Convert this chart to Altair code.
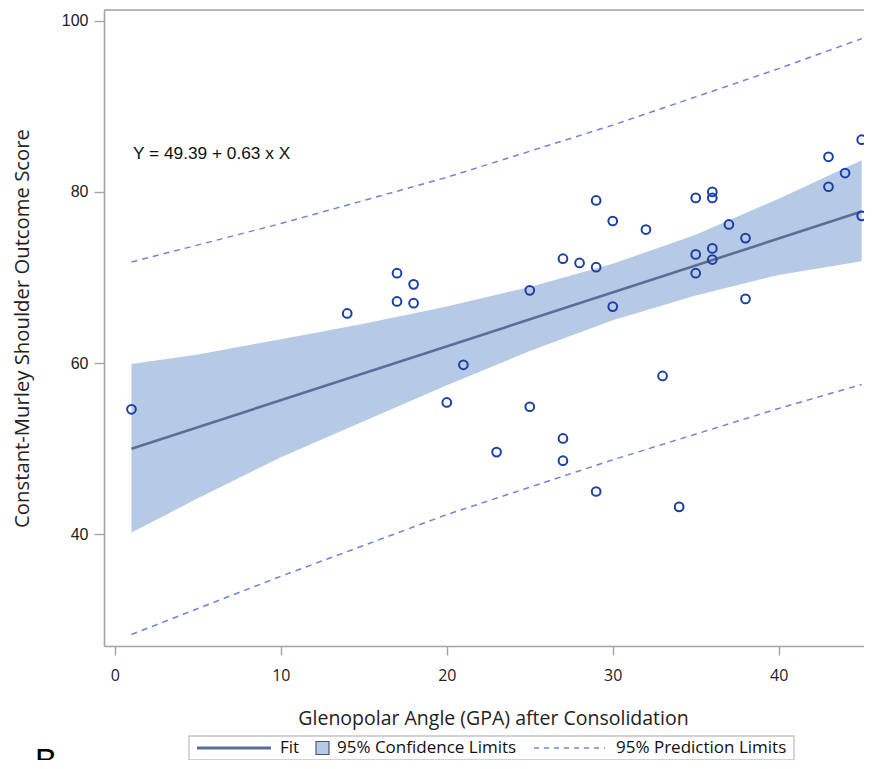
import altair as alt
import pandas as pd

# --- data ---
gpa = [1, 14, 17, 17, 18, 18, 20, 21, 23, 25, 25, 27, 27, 27, 28, 29, 29, 29, 30, 30,
       32, 33, 34, 35, 35, 35, 36, 36, 36, 36, 37, 38, 38, 43, 43, 44, 45, 45]
score = [54.6, 65.8, 70.5, 67.2, 69.2, 67.0, 55.4, 59.8, 49.6, 68.5, 54.9, 72.2, 51.2, 48.6,
         71.7, 79.0, 71.2, 45.0, 76.6, 66.6, 75.6, 58.5, 43.2, 79.3, 72.7, 70.5, 80.0, 79.3,
         73.4, 72.1, 76.2, 74.6, 67.5, 84.1, 80.6, 82.2, 86.1, 77.2]

fit_x = [1, 45]
fit_y = [50.0, 77.7]

band_x = [1, 5, 10, 15, 20, 25, 30, 35, 40, 45]
band_lo = [40.2, 44.2, 49.0, 53.2, 57.4, 61.4, 65.0, 67.9, 70.3, 71.9]
band_hi = [59.9, 61.0, 62.8, 64.6, 66.6, 68.9, 71.6, 75.0, 79.2, 83.7]

pred_x = [1, 10, 20, 30, 40, 45]
pred_hi = [71.8, 76.3, 81.7, 87.8, 94.4, 97.9]
pred_lo = [28.3, 35.1, 42.3, 48.7, 54.7, 57.5]

x_ticks = [0, 10, 20, 30, 40]
y_ticks = [40, 60, 80, 100]
equation = "Y = 49.39 + 0.63 x X"
x_title = "Glenopolar Angle (GPA) after Consolidation"
y_title = "Constant-Murley Shoulder Outcome Score"
legend_labels = ["Fit", "95% Confidence Limits", "95% Prediction Limits"]

W, H = 760, 636
XDOM = [-0.656, 45.14]
YDOM = [26.95, 101.25]

pts = pd.DataFrame({"x": gpa, "y": score})
fit = pd.DataFrame({"x": fit_x, "y": fit_y})
band = pd.DataFrame({"x": band_x, "lo": band_lo, "hi": band_hi})
pred = pd.DataFrame({"x": pred_x, "lo": pred_lo, "hi": pred_hi})

xs = alt.Scale(domain=XDOM, nice=False, zero=False)
ys = alt.Scale(domain=YDOM, nice=False, zero=False)

AX = "#a4a4a4"
xaxis = alt.Axis(values=x_ticks, grid=False, title=x_title, domainColor=AX, domainWidth=1.6,
                 tickColor=AX, tickSize=9, tickWidth=1.4, labelPadding=12,
                 labelFont="Open Sans", labelFontSize=16, labelColor="#222",
                 titleFont="Open Sans", titleFontSize=19.5, titleFontWeight="normal",
                 titleColor="#222", titleX=389, titleY=72, titleBaseline="middle",
                 titleAnchor="middle")
yaxis = alt.Axis(values=y_ticks, grid=False, title=y_title, domainColor=AX, domainWidth=1.6,
                 tickColor=AX, tickSize=10, tickWidth=1.4, labelPadding=6,
                 labelFont="Liberation Sans", labelFontSize=16, labelColor="#222",
                 titleFont="Open Sans", titleFontSize=20.3, titleFontWeight="normal",
                 titleColor="#222", titleX=-82, titleY=318, titleAngle=-90,
                 titleBaseline="middle", titleAlign="center")

band_layer = alt.Chart(band).mark_area(color="#b6cae5", opacity=1).encode(
    x=alt.X("x:Q", scale=xs, axis=xaxis),
    y=alt.Y("lo:Q", scale=ys, axis=yaxis),
    y2="hi:Q",
)
fit_layer = alt.Chart(fit).mark_line(color="#5a6d9b", strokeWidth=2.6).encode(
    x=alt.X("x:Q", scale=xs), y=alt.Y("y:Q", scale=ys))
pred_hi_layer = alt.Chart(pred).mark_line(color="#7184d2", strokeWidth=1.5, strokeDash=[6, 5]).encode(
    x=alt.X("x:Q", scale=xs), y=alt.Y("hi:Q", scale=ys))
pred_lo_layer = alt.Chart(pred).mark_line(color="#7184d2", strokeWidth=1.5, strokeDash=[6, 5]).encode(
    x=alt.X("x:Q", scale=xs), y=alt.Y("lo:Q", scale=ys))
pt_layer = alt.Chart(pts).mark_point(shape="circle", filled=False, color="#1b3fa4",
                                     size=76, strokeWidth=2, opacity=1).encode(
    x=alt.X("x:Q", scale=xs), y=alt.Y("y:Q", scale=ys))

one = pd.DataFrame({"a": [0]})
top_frame = alt.Chart(one).mark_rule(color=AX, strokeWidth=1.6).encode(
    x=alt.value(0), x2=alt.value(W), y=alt.value(0))
eq = alt.Chart(one).mark_text(text=equation, font="Liberation Sans", fontSize=17.3,
                              align="left", baseline="middle", color="#111").encode(
    x=alt.value(29), y=alt.value(144))

LY = 738
leg_box = alt.Chart(one).mark_rect(fill="white", stroke="#c4c4c4", strokeWidth=1.4).encode(
    x=alt.value(85), x2=alt.value(690), y=alt.value(726), y2=alt.value(750))
leg_fit = alt.Chart(one).mark_rule(color="#5a6d9b", strokeWidth=3).encode(
    x=alt.value(93), x2=alt.value(167), y=alt.value(LY))
leg_sq = alt.Chart(one).mark_rect(fill="#b6cae5", stroke="#4a5a7a", strokeWidth=1.2).encode(
    x=alt.value(212), x2=alt.value(225), y=alt.value(LY - 6.5), y2=alt.value(LY + 6.5))
leg_dash = alt.Chart(one).mark_rule(color="#7184d2", strokeWidth=1.5, strokeDash=[5, 5]).encode(
    x=alt.value(430), x2=alt.value(501), y=alt.value(LY))
leg_txt = []
for lab, xp in zip(legend_labels, [176, 233, 512]):
    leg_txt.append(alt.Chart(one).mark_text(text=lab, font="Open Sans", fontSize=17,
                                            align="left", baseline="middle", color="#111").encode(
        x=alt.value(xp), y=alt.value(LY)))
panel = alt.Chart(one).mark_text(text="B", font="Liberation Sans", fontSize=33,
                                 align="left", baseline="alphabetic", color="#000").encode(
    x=alt.value(-69), y=alt.value(762))

chart = alt.layer(band_layer, fit_layer, pred_hi_layer, pred_lo_layer, pt_layer, top_frame, eq,
                  leg_box, leg_fit, leg_sq, leg_dash, *leg_txt, panel).properties(
    width=W, height=H, autosize="none",
    padding={"left": 96, "top": 2, "right": 0, "bottom": 114},
).configure_view(stroke=None).configure(background="white")

chart.save("out.html", embed_options={"renderer": "svg", "actions": False})
